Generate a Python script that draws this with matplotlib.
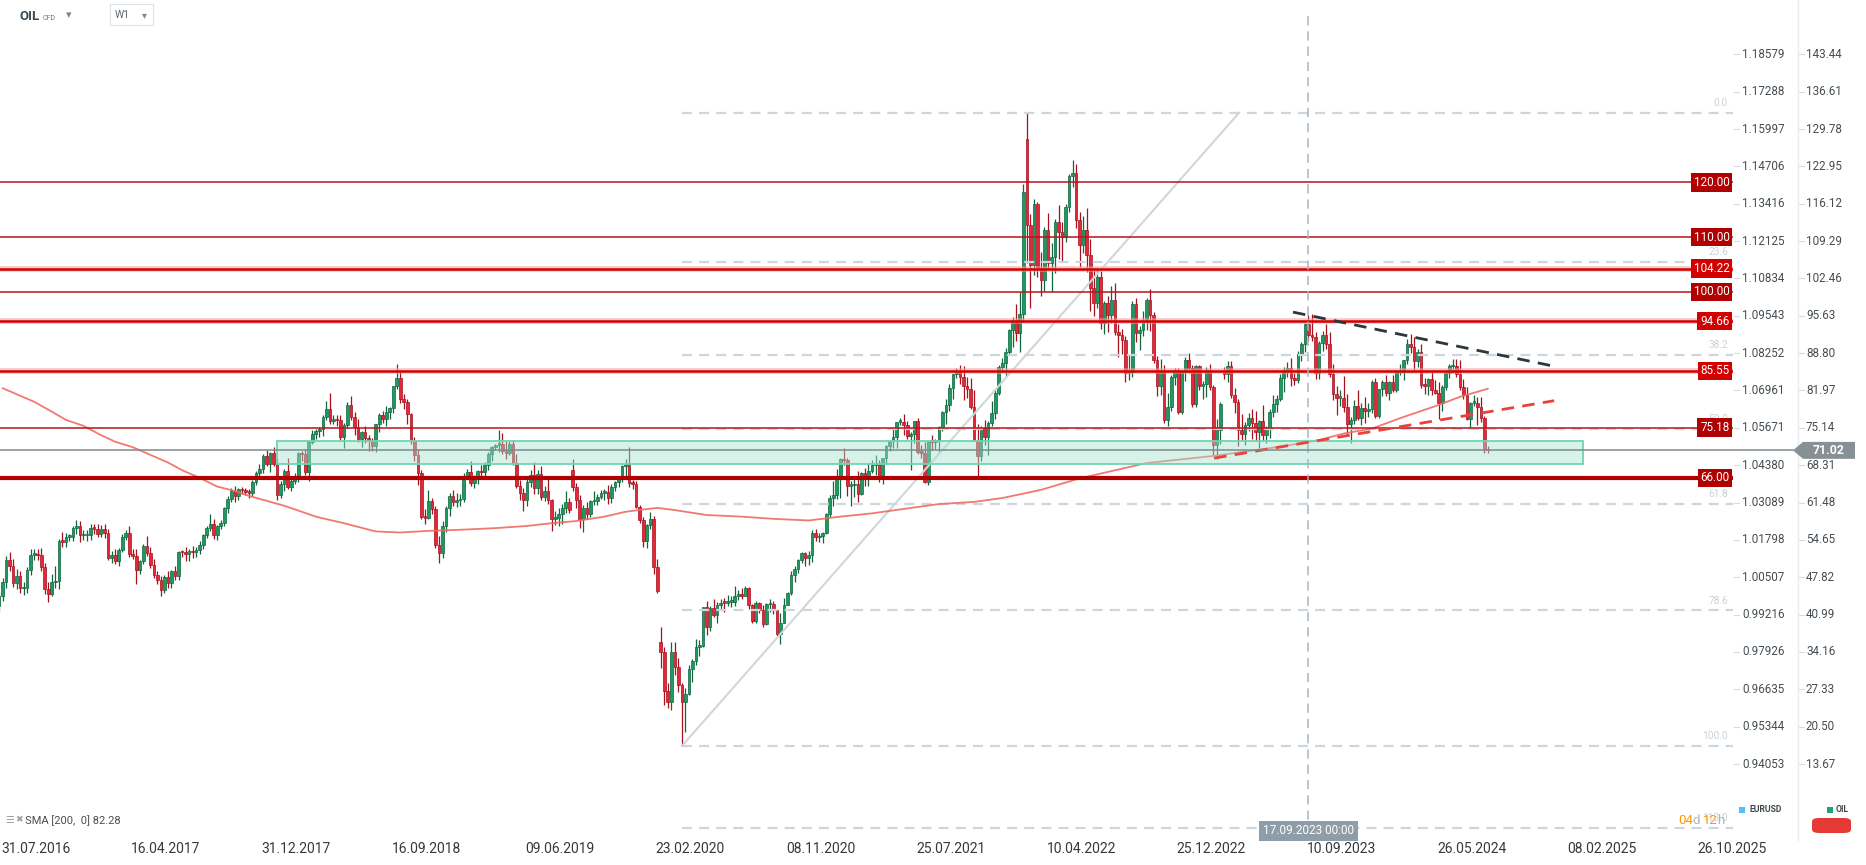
import numpy as np
import matplotlib
matplotlib.use("Agg")
import matplotlib.pyplot as plt
import matplotlib.transforms as mtransforms
from matplotlib.patches import Rectangle, Polygon, FancyBboxPatch
from matplotlib.lines import Line2D
from datetime import date

plt.rcParams['font.family'] = ['Roboto', 'DejaVu Sans']

# ---------------- DATA ----------------
start_week = date(2016, 7, 31)
first_open = 42.5
# weekly candles: (close, upper wick, lower wick)
w2016 = [(44.3,0.8,1.0),(47.0,0.6,0.9),(50.9,0.8,1.1),(49.9,1.5,0.9),(46.8,1.3,0.8),(48.0,1.3,1.2),(45.8,1.0,0.8),(45.9,1.1,1.2),(49.1,0.6,0.9),(51.9,1.0,0.8),
         (52.0,1.0,1.0),(51.8,0.9,0.9),(49.7,1.4,0.8),(45.6,0.8,0.8),(44.8,1.3,1.5),(46.9,1.5,0.4),(47.2,2.6,1.0),(54.5,0.3,1.5),(54.3,1.6,1.0),(55.2,0.8,1.0),
         (55.2,0.5,0.8),(56.8,0.4,0.8)]
w2017 = [(57.1,1.2,1.0),(55.5,1.0,1.2),(55.5,1.0,0.9),(55.5,0.9,1.1),(56.8,0.7,0.8),(56.7,0.7,1.0),(55.8,0.8,0.6),(56.7,0.6,0.7),(55.9,0.8,0.9),(51.4,0.8,0.5),
         (51.8,0.8,1.0),(50.8,1.1,0.6),(52.8,0.3,1.0),(55.2,0.5,0.3),(55.9,0.5,0.5),(52.0,1.2,0.5),(51.7,0.9,0.5),(49.1,1.2,2.5),(50.8,0.2,0.7),(53.6,0.3,0.5),
         (52.2,1.8,0.5),(50.0,1.1,0.5),(48.2,1.2,0.6),(47.4,0.8,0.8),(45.5,0.6,1.1),(47.9,0.4,0.5),(46.7,1.0,0.9),(48.9,0.3,0.8),(48.1,1.0,0.7),(52.5,0.2,0.8),
         (52.4,0.3,0.9),(52.1,0.9,1.4),(52.7,0.3,1.3),(52.4,0.8,1.0),(52.8,0.5,0.8),(53.8,0.6,0.8),(55.6,0.2,0.8),(56.9,0.2,0.6),(57.5,1.8,0.6),(55.6,1.0,0.8),
         (57.2,0.2,0.9),(57.8,0.5,0.6),(60.4,0.3,0.6),(62.1,0.5,0.8),(63.5,0.6,0.5),(62.7,1.0,1.2),(63.9,0.3,0.7),(63.7,0.5,0.6),(63.4,0.4,0.6),(63.2,0.5,0.9),
         (65.3,0.3,0.6),(66.9,0.3,0.6)]
w2018 = [(67.6,1.0,1.2),(69.9,0.4,0.8),(68.6,1.2,0.4),(70.5,0.2,1.5),(68.6,1.2,0.4),(62.8,1.0,0.8),(64.8,0.6,0.5),(67.3,0.3,1.2),(64.4,2.3,0.4),(65.5,0.8,0.9),
         (66.2,0.6,0.6),(70.5,0.3,1.0),(70.3,0.4,1.3),(67.1,1.0,0.5),(72.6,0.2,1.7),(74.1,0.6,0.5),(74.6,0.3,1.0),(74.9,0.4,1.1),(77.1,0.4,1.2),(78.5,1.5,0.5),
         (76.4,3.0,0.6),(76.8,0.6,0.5),(76.5,0.6,1.1),(73.4,1.0,0.5),(75.6,0.5,1.9),(79.4,0.4,0.5),(77.1,1.5,0.6),(75.3,1.0,1.5),(73.1,1.5,0.6),(74.3,0.2,1.4),
         (73.2,1.2,0.9),(72.8,0.7,1.9),(71.8,0.5,0.9),(75.8,0.1,1.0),(77.4,0.4,1.5),(76.8,0.8,0.7),(78.1,1.0,1.4),(78.8,0.2,1.3),(82.7,0.1,0.9),(84.2,2.6,0.5),
         (80.4,1.3,0.8),(79.8,0.9,1.3),(77.6,0.7,1.7),(72.8,0.3,0.6),(70.2,0.7,1.1),(66.8,1.0,2.2),(58.8,0.6,0.4),(58.7,1.5,1.2),(61.7,2.0,0.3),(60.3,0.6,1.0),
         (53.8,0.5,0.6),(52.2,1.6,1.7)]
w2019 = [(57.1,1.0,0.8),(60.5,0.4,1.0),(62.7,0.6,1.4),(61.6,1.1,0.8),(61.9,1.3,1.0),(62.1,1.0,1.0),(66.3,0.5,0.6),(67.1,0.6,0.5),(65.1,1.9,0.6),(65.7,0.9,0.9),
         (67.2,0.3,0.9),(67.0,1.1,0.6),(68.4,0.5,1.0),(70.3,0.5,1.0),(71.6,0.3,1.2),(72.0,0.2,0.5),(72.2,2.5,1.3),(70.9,2.0,0.6),(70.6,1.8,1.2),(72.2,0.6,0.5),
         (68.7,0.8,0.3),(64.5,1.6,0.3),(63.3,1.1,1.4),(62.0,0.8,2.0),(65.2,0.6,1.2),(66.6,0.9,0.9),(64.2,2.3,1.1),(66.7,0.7,1.1),(62.5,1.5,0.5),(63.5,1.0,0.8),
         (61.9,2.8,0.7),(58.5,0.3,2.3),(58.6,1.4,1.2),(59.3,1.1,1.5),(60.4,0.9,1.7),(61.5,2.0,0.8),(60.2,0.8,0.6),(64.3,1.9,0.7),(61.9,0.7,1.5),(58.4,1.0,1.6),
         (60.5,0.5,2.3),(59.4,1.1,1.0),(61.7,0.3,0.6),(61.7,1.9,0.6),(62.5,0.6,0.6),(63.3,0.4,0.4),(63.4,0.5,1.4),(62.4,1.2,1.2),(64.4,0.4,1.0),(65.2,0.3,0.9),
         (66.1,0.3,0.9),(68.2,0.1,0.9)]
w2020 = [(68.6,0.9,2.5),(65.0,3.1,0.7),(64.9,0.6,1.0),(60.7,0.6,0.2),(58.2,0.3,0.5),(54.5,0.7,1.2),(57.3,0.2,1.3),(58.5,1.2,0.7),(49.7,0.5,1.3),(45.3,1.5,0.3),
         (34.2,2.8,3.0),(27.0,0.8,2.5),(25.0,1.5,1.0),(34.1,1.9,1.5),(31.5,1.9,1.5),(28.1,1.5,1.3),(25.0,0.4,8.0),(26.4,1.1,5.5),(31.0,0.7,0.1),(32.5,0.3,2.3),
         (35.1,1.4,0.8),(35.3,1.0,1.7),(42.3,0.1,0.3),(38.7,1.1,1.5),(42.2,0.3,0.7),(41.0,1.7,0.5),(42.8,0.5,1.5),(43.2,0.7,0.8),(43.1,0.8,1.6),(43.3,1.3,0.6),
         (43.3,1.1,1.0),(44.4,1.8,0.8),(44.8,0.6,0.7),(44.4,1.1,0.5),(45.8,0.4,0.1),(42.7,0.3,0.6),(39.8,0.3,0.4),(43.2,0.2,0.3),(41.9,0.1,0.6),(39.3,0.9,0.5),
         (42.9,0.3,0.2),(42.9,1.0,1.4),(41.8,0.6,0.7),(37.5,0.1,0.5),(39.5,1.8,1.8),(42.8,1.2,0.1),(45.0,0.2,0.1),(48.2,0.8,0.5),(49.3,0.6,1.3),(51.0,0.2,0.7),
         (52.3,0.2,0.5),(51.3,0.2,1.5)]
w2021 = [(51.8,0.8,1.2),(56.0,0.5,1.2),(55.1,0.6,0.7),(55.4,0.6,0.9),(55.9,0.2,1.3),(59.3,0.2,0.1),(62.4,0.4,0.5),(62.9,2.6,1.5),(66.1,1.6,0.7),(69.4,0.3,3.8),
         (69.2,2.0,0.9),(64.5,0.5,1.8),(64.6,0.8,3.6),(64.9,0.9,2.1),(63.0,2.4,1.5),(66.8,0.3,0.2),(66.1,1.0,1.6),(67.3,1.2,1.6),(68.3,1.0,0.4),(68.7,1.4,1.8),
         (66.4,0.6,1.1),(69.6,0.1,1.6),(71.9,0.1,1.1),(72.7,0.2,1.0),(73.5,1.4,1.2),(76.2,0.0,2.1),(76.2,0.7,0.5),(75.6,1.5,1.7),(73.6,0.7,0.5),(74.1,0.3,6.2),
         (76.3,0.1,1.7),(70.7,0.6,0.4),(70.6,1.3,1.0),(65.2,2.0,0.2),(72.7,0.0,0.5),(72.6,1.2,1.6),(72.9,0.2,1.4),(75.3,0.2,2.3),(78.1,0.1,0.8),(79.3,1.2,2.3),
         (82.4,0.8,1.0),(84.9,0.1,2.0),(85.5,0.6,0.6),(84.4,1.2,1.3),(82.7,2.0,2.4),(82.2,1.8,1.6),(78.9,2.0,0.3),(72.7,3.2,0.0),(69.9,3.1,4.2),(75.2,0.2,0.9),
         (73.5,1.4,1.5),(76.1,0.2,3.3),(77.8,2.2,0.6)]
w2022 = [(81.5,0.5,1.0),(86.3,0.3,0.4),(87.0,1.0,0.9),(89.0,0.8,2.5),(93.0,0.3,0.5),(94.9,0.5,3.0),(92.5,2.8,1.5),(96.0,4.0,3.5),(118.3,1.5,1.5),(112.2,4.9,7.0),
         (105.0,2.0,8.0),(116.0,1.0,2.0),(104.3,0.5,1.5),(102.2,3.0,3.0),(111.3,0.5,2.0),(105.2,3.2,1.0),(106.4,2.5,5.0),(112.8,0.5,3.0),(111.0,3.0,5.0),(110.1,1.8,4.5),
         (115.6,0.5,1.0),(121.1,0.5,1.0),(121.7,2.4,2.0),(113.1,1.6,1.5),(108.6,1.5,4.0),(111.3,2.5,1.5),(106.7,4.0,3.0),(100.7,3.0,4.2),(98.0,3.5,2.5),(102.8,1.5,1.0),
         (94.3,1.0,1.0),(97.9,0.5,2.0),(95.8,1.3,3.2),(98.6,2.5,1.5),(92.7,3.0,0.5),(92.1,1.5,4.0),(91.2,1.2,2.5),(85.1,0.8,1.5),(85.4,3.0,1.3),(97.8,0.5,1.0),
         (92.4,1.0,1.5),(93.0,0.8,3.0),(94.5,2.0,1.0),(98.5,0.3,1.5),(95.8,2.0,3.0),(87.5,0.5,0.5),(82.7,0.8,1.8),(85.7,2.0,1.5),(76.6,1.0,0.6),(79.0,2.5,1.2),
         (84.5,0.3,0.8),(85.8,0.3,1.5)]
w2023 = [(78.1,0.3,0.5),(85.3,0.3,0.5),(87.6,0.5,1.6),(86.1,1.3,1.0),(79.5,0.5,0.5),(86.4,0.3,0.5),(82.7,0.2,0.6),(83.2,0.5,2.2),(85.8,0.5,2.5),(82.6,1.0,0.5),
         (72.0,0.4,1.9),(74.7,2.0,2.5),(79.5,0.3,2.5),(85.0,0.9,1.0),(86.4,1.0,1.5),(81.1,1.0,0.5),(79.9,1.3,2.0),(74.8,0.5,3.0),(74.0,2.8,1.0),(75.7,0.5,2.0),
         (76.9,1.0,1.2),(76.1,1.6,3.0),(74.4,2.2,1.7),(76.3,0.3,3.0),(73.8,3.0,1.0),(75.2,0.2,1.5),(78.1,0.4,2.0),(79.5,1.7,1.0),(80.5,0.6,1.5),(84.2,0.8,0.5),
         (85.8,0.5,2.5),(86.1,1.0,1.3),(84.2,1.8,1.5),(83.9,1.0,1.0),(88.7,0.5,0.5),(90.5,0.3,1.3),(94.1,0.2,1.5),(92.1,1.7,1.0),(91.8,3.8,0.8),(85.1,0.8,1.0),
         (90.6,0.4,1.0),(92.2,0.6,1.5),(90.5,2.0,1.0),(84.9,2.2,0.5),(81.4,2.0,1.2),(80.6,1.4,3.2),(80.6,1.5,1.5),(78.9,4.0,0.8),(75.8,2.5,2.0),(76.6,0.5,3.5),
         (79.1,1.2,0.7),(77.0,3.0,0.5)]
w2024 = [(78.8,0.9,1.4),(78.3,2.0,2.2),(78.6,1.0,1.2),(83.6,0.2,0.8),(77.3,0.7,0.4),(82.2,0.0,0.3),(83.5,0.3,1.3),(81.6,1.3,0.6),(83.6,0.1,1.3),(82.1,1.2,0.4),
         (85.3,0.4,0.4),(85.4,1.5,0.5),(87.5,0.0,1.5),(90.5,0.8,0.7),(90.0,1.8,1.2),(87.3,1.8,1.5),(89.0,0.5,1.0),(83.0,1.4,0.5),(82.8,1.3,1.5),(84.0,0.2,1.7),
         (82.1,1.5,1.0),(81.6,1.7,0.3),(79.6,2.0,2.9),(82.6,0.3,1.3),(85.2,0.6,0.6),(86.4,0.4,0.9),(86.5,1.2,1.3),(85.0,1.3,0.6),(82.6,2.6,0.5),(81.1,1.5,0.6),
         (76.8,1.5,0.2),(79.7,0.2,1.7),(79.7,1.5,0.6),(79.0,1.0,3.4),(76.9,1.8,0.7),(71.1,0.4,0.5),(71.0,0.8,0.5)]
# weekly opening gaps {week index: open}
gap_opens = {163: 67.5, 188: 36.0, 292: 127.9, 348: 85.4}

# SMA(200): week index -> value
sma_week = [1, 10, 15, 19, 24, 29, 33, 38, 43, 48, 52, 57, 62, 67, 71, 76, 81, 86, 90, 98, 107, 114, 122, 131, 141,
            150, 157, 164, 172, 178, 183, 187, 192, 201, 211, 220, 230, 239, 248, 258, 267, 277, 285, 296, 307, 326,
            345, 364, 375, 382, 390, 398, 408, 415, 423]
sma_value = [82.4, 79.9, 78.1, 76.6, 75.5, 73.8, 72.6, 71.6, 70.2, 68.8, 67.4, 66.0, 64.4, 63.6, 62.7, 61.8, 60.9, 59.8,
             58.9, 57.7, 56.2, 56.0, 56.3, 56.5, 56.8, 57.2, 57.7, 58.1, 58.9, 59.8, 60.2, 60.5, 60.1, 59.2, 58.9, 58.5,
             58.2, 58.9, 59.5, 60.4, 61.2, 61.6, 62.3, 63.8, 65.9, 68.7, 70.0, 71.7, 72.9, 74.1, 75.0, 76.9, 79.1, 80.8, 82.3]

# horizontal levels
levels = [120.00, 110.00, 104.22, 100.00, 94.66, 85.55, 75.18, 66.00]
level_style = ['thin', 'thin', 'bold', 'thin', 'bold', 'bold', 'thin', 'heavy']
# fibonacci
fib_low, fib_high = 16.96, 132.76
fib_low_week, fib_diag_end_week = 194, 352.3
fib_ratios = [0.0, 23.6, 38.2, 50.0, 61.8, 78.6, 100.0, 113.0]
# drawings
black_trend = [(367.6, 96.3), (441.8, 86.4)]
red_trend = [(345.2, 69.6), (441.8, 80.1)]
zone_weeks = (79.0, 450.0)
zone_prices = (68.58, 72.68)
last_price = 71.02
sma_label = 82.28
cross_week = 372
cross_label = '17.09.2023 00:00'
# axes labels
oil_ticks = [143.44, 136.61, 129.78, 122.95, 116.12, 109.29, 102.46, 95.63, 88.80, 81.97, 75.14, 68.31,
             61.48, 54.65, 47.82, 40.99, 34.16, 27.33, 20.50, 13.67]
eur_ticks = ['1.18579', '1.17288', '1.15997', '1.14706', '1.13416', '1.12125', '1.10834', '1.09543', '1.08252',
             '1.06961', '1.05671', '1.04380', '1.03089', '1.01798', '1.00507', '0.99216', '0.97926', '0.96635',
             '0.95344', '0.94053']
date_labels = ['31.07.2016', '16.04.2017', '31.12.2017', '16.09.2018', '09.06.2019', '23.02.2020', '08.11.2020',
               '25.07.2021', '10.04.2022', '25.12.2022', '10.09.2023', '26.05.2024', '08.02.2025', '26.10.2025']

# ---------------- FIGURE ----------------
W, H = 1866, 865
PR, PB = 1733, 835
NARROW = ['Liberation Sans Narrow', 'Roboto', 'DejaVu Sans']
fig = plt.figure(figsize=(W / 100, H / 100), dpi=100)
ax = fig.add_axes([0, 1 - PB / H, PR / W, PB / H])
ax.set_xlim(0.284, 492.6)
ax.set_ylim(0.69, 153.37)
ax.axis('off')

UP, UP_E = '#1d9a62', '#12663f'
DN, DN_E = '#e3283a', '#a5111f'

weeks = w2016 + w2017 + w2018 + w2019 + w2020 + w2021 + w2022 + w2023 + w2024
closes = np.array([w[0] for w in weeks])
wu = np.array([w[1] for w in weeks])
wd = np.array([w[2] for w in weeks])
opens = np.r_[first_open, closes[:-1]]
for k, v in gap_opens.items():
    opens[k] = v
hi = np.maximum(opens, closes) + wu
lo = np.minimum(opens, closes) - wd
idx = np.arange(len(closes))
up = closes >= opens
for m, fc, ec in [(up, UP, UP_E), (~up, DN, DN_E)]:
    ax.vlines(idx[m], lo[m], hi[m], color=ec, lw=0.9, zorder=3)
    bot = np.minimum(opens[m], closes[m])
    hgt = np.maximum(np.abs(closes[m] - opens[m]), 0.3)
    ax.bar(idx[m], hgt, bottom=bot, width=0.76, color=fc, edgecolor=ec, linewidth=0.5, zorder=4)

# SMA
ax.plot(sma_week, sma_value, color='#f06a60', lw=1.3, alpha=0.9, zorder=5, solid_capstyle='round')

# fib lines
fib_prices = [fib_high - r / 100 * (fib_high - fib_low) for r in fib_ratios]
for r, p in zip(fib_ratios, fib_prices):
    ln, = ax.plot([fib_low_week, 492.6], [p, p], color='#cdd6dc', lw=1.6, zorder=4.6)
    ln.set_dashes([4.5, 3.2])
    ax.text(1728 / PR, p + 0.9, f'{r:.1f}', transform=ax.get_yaxis_transform(), ha='right', va='bottom',
            fontsize=7.3, color='#c9d2d9', zorder=4.7)
ax.plot([fib_low_week, fib_diag_end_week], [fib_low, fib_high], color='#cfd7dc', lw=1.5, zorder=4.6)

# horizontal red levels
for lv, st in zip(levels, level_style):
    if st == 'thin':
        ax.axhline(lv, color='#b8141a', lw=1.1, zorder=5.5)
        bc = '#b00000'
    elif st == 'bold':
        ax.axhline(lv, color='#f2a0a0', lw=4.0, alpha=0.6, zorder=5.4)
        ax.axhline(lv, color='#d40000', lw=1.8, zorder=5.5)
        bc = '#d20000'
    else:
        ax.axhline(lv, color='#b00000', lw=3.0, zorder=5.5)
        bc = '#b00000'
    ax.text(1729.5 / PR, lv, f'{lv:.2f}', transform=ax.get_yaxis_transform(), ha='right', va='center',
            fontsize=8.4, color='white', zorder=9,
            bbox=dict(boxstyle='square,pad=0.24', fc=bc, ec='none'))

# zone
ax.add_patch(Rectangle((zone_weeks[0], zone_prices[0]), zone_weeks[1] - zone_weeks[0],
                       zone_prices[1] - zone_prices[0], fc='#a4e4d0', alpha=0.45, ec='none', zorder=6))
ax.add_patch(Rectangle((zone_weeks[0], zone_prices[0]), zone_weeks[1] - zone_weeks[0],
                       zone_prices[1] - zone_prices[0], fc='none', ec='#6fd5b0', lw=1.3, zorder=6.1))

# trend lines
bl, = ax.plot(*zip(*black_trend), color='#2b373d', lw=2.0, zorder=7)
bl.set_dashes([4.5, 3])
rl, = ax.plot(*zip(*red_trend), color='#e8423b', lw=2.0, zorder=7)
rl.set_dashes([4.5, 3])

# crosshair
cl, = ax.plot([cross_week, cross_week], [0.69, 150.7], color='#a6b6c1', lw=1.1, zorder=7.5)
cl.set_dashes([6, 4])
ax.text(cross_week, 4 / PB, cross_label, transform=ax.get_xaxis_transform(), ha='center', va='center',
        fontsize=8.5, color='white', zorder=10, clip_on=False,
        bbox=dict(boxstyle='square,pad=0.3', fc='#8e9da7', ec='none'))

# last price line and tag
bt = mtransforms.blended_transform_factory(fig.transFigure, ax.transData)
fig.add_artist(Line2D([0, 1793 / W], [last_price, last_price], transform=bt, color='#7d8a90', lw=1.1, zorder=8))
hh = 1.55
tag = Polygon([(1793 / W, last_price), (1803 / W, last_price + hh), (1855 / W, last_price + hh),
               (1855 / W, last_price - hh), (1803 / W, last_price - hh)], closed=True, transform=bt,
              fc='#879195', ec='none', zorder=9)
fig.add_artist(tag)
fig.add_artist(plt.Text(1829 / W, last_price, f'{last_price:.2f}', transform=bt, ha='center', va='center',
                        fontsize=8.8, color='white', fontweight='bold', zorder=11))

# right axes labels
yt = ax.get_yaxis_transform()
for p, e in zip(oil_ticks, eur_ticks):
    ax.plot([1734 / PR, 1739 / PR], [p, p], transform=yt, color='#d5dbe0', lw=0.8, clip_on=False)
    ax.text(1742 / PR, p, e, transform=yt, ha='left', va='center', fontsize=8.4, color='#454d52', clip_on=False)
    ax.plot([1799 / PR, 1804 / PR], [p, p], transform=yt, color='#d5dbe0', lw=0.8, clip_on=False)
    ax.text(1806 / PR, p, f'{p:.2f}', transform=yt, ha='left', va='center', fontsize=8.4, color='#454d52',
            clip_on=False, zorder=8.5)
fig.add_artist(Line2D([1798 / W, 1798 / W], [1, 1 - 840 / H], transform=fig.transFigure, color='#e8ecef', lw=1))

# date labels
xt = ax.get_xaxis_transform()
for lab in date_labels:
    d = date(int(lab[6:]), int(lab[3:5]), int(lab[:2]))
    wk = (d - start_week).days / 7
    ax.text(wk + 0.6, -14 / PB, lab, transform=xt, ha='left', va='center', fontsize=10, color='#333a3f',
            clip_on=False, family=NARROW)

# header
fig.text(19 / W, 1 - 17 / H, 'OIL', fontsize=9.5, fontweight='bold', color='#3b4a54', va='center')
fig.text(43 / W, 1 - 18 / H, 'CFD', fontsize=5, color='#6d7a82', va='center')
fig.text(66 / W, 1 - 15 / H, '▾', fontsize=8, color='#7d878d', va='center', family='DejaVu Sans')
fig.add_artist(Rectangle((110 / W, 1 - 25 / H), 43 / W, 21 / H, transform=fig.transFigure,
                         fc='white', ec='#dfe4e8', lw=0.8))
fig.text(115 / W, 1 - 15 / H, 'W1', fontsize=7.5, color='#5c666c', va='center')
fig.text(142 / W, 1 - 15 / H, '▾', fontsize=7, color='#7d878d', va='center', family='DejaVu Sans')

# bottom-left legend
fig.text(5 / W, 1 - 820 / H, '☰', fontsize=7, color='#9aa3a8', va='center', family='DejaVu Sans')
fig.text(15 / W, 1 - 820 / H, '✖', fontsize=6.5, color='#9aa3a8', va='center', family='DejaVu Sans')
fig.text(25 / W, 1 - 821 / H, f'SMA [200,  0] {sma_label}', fontsize=8, color='#4a5055', va='center',
         family=NARROW)

# bottom-right legend & timer
fig.add_artist(Rectangle((1739 / W, 1 - 813 / H), 6 / W, 6 / H, transform=fig.transFigure, fc='#4fc3f7', ec='none'))
fig.text(1749 / W, 1 - 810 / H, 'EURUSD', fontsize=6.2, color='#3f474c', va='center', fontweight='bold')
fig.add_artist(Rectangle((1827 / W, 1 - 813 / H), 6 / W, 6 / H, transform=fig.transFigure, fc='#22a36b', ec='none'))
fig.text(1836 / W, 1 - 810 / H, 'OIL', fontsize=6.2, color='#3f474c', va='center', fontweight='bold')
fig.add_artist(FancyBboxPatch((1812 / W, 1 - 833 / H), 39 / W, 15 / H, transform=fig.transFigure,
                              boxstyle='round,pad=0,rounding_size=0.004', fc='#e53935', ec='none'))
fig.text(1678 / W, 1 - 821 / H, '04', fontsize=9.5, color='#ff9800', va='center')
fig.text(1692 / W, 1 - 821 / H, 'd', fontsize=9.5, color='#b0b6ba', va='center')
fig.text(1703 / W, 1 - 821 / H, '12', fontsize=9.5, color='#ff9800', va='center')
fig.text(1717 / W, 1 - 821 / H, 'h', fontsize=9.5, color='#b0b6ba', va='center')

fig.savefig('out.png', dpi=100, facecolor='white')
